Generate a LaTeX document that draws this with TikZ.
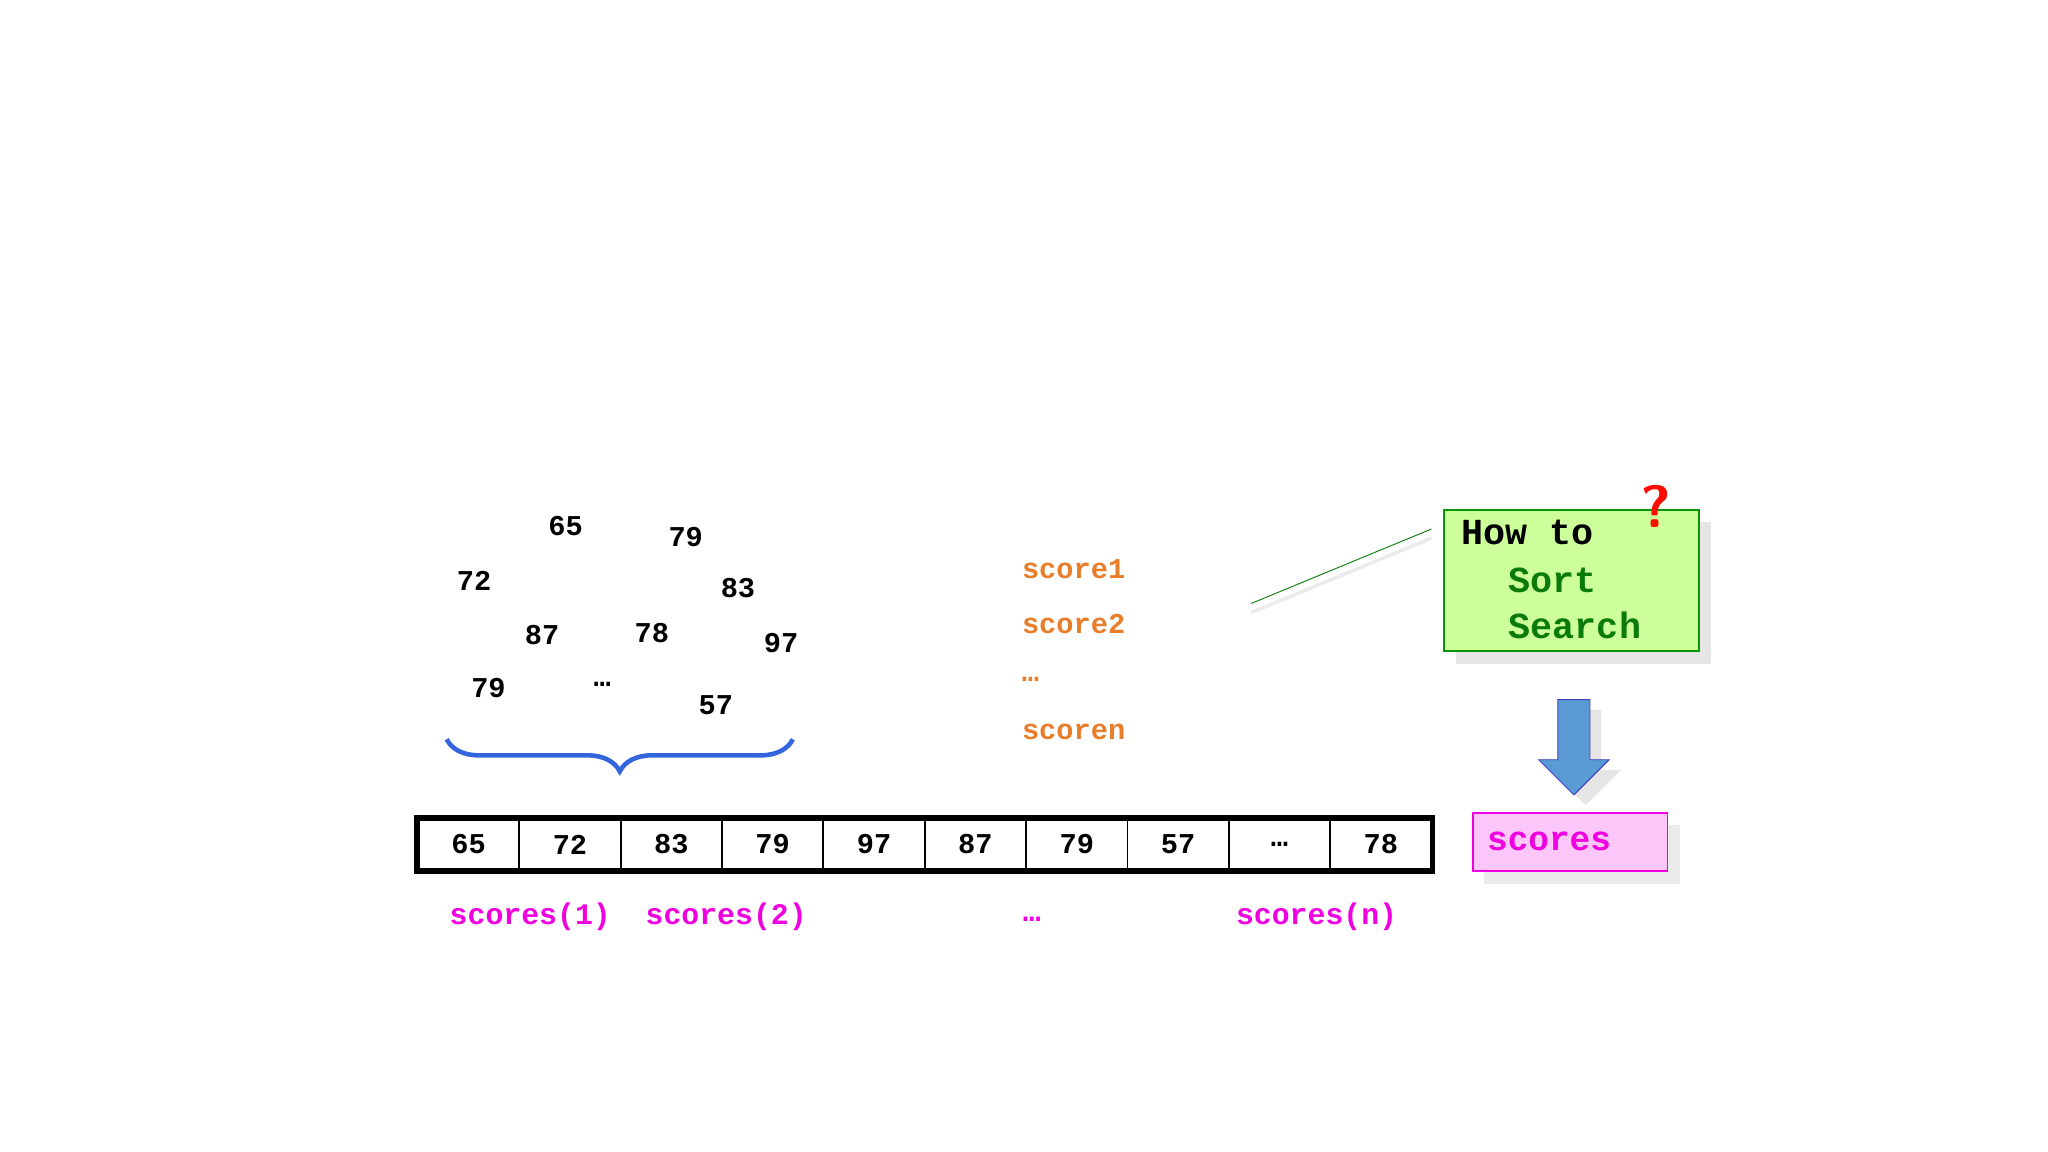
\documentclass[tikz,border=0pt]{standalone}
\usepackage{fontspec}
\setmonofont{Liberation Mono}
\usetikzlibrary{decorations.pathreplacing,shapes.arrows}
\definecolor{orng}{HTML}{E87D2A}
\definecolor{mag}{HTML}{F000E0}
\definecolor{dgreen}{HTML}{0A7A0A}
\definecolor{gfill}{HTML}{CCFF99}
\definecolor{brc}{HTML}{3366DD}
\definecolor{arrc}{HTML}{5B9BD5}
\tikzset{num/.style={font=\ttfamily\bfseries\fontsize{12.5}{14}\selectfont},
 orl/.style={font=\ttfamily\bfseries\fontsize{12.5}{14}\selectfont,text=orng},
 mgl/.style={font=\ttfamily\bfseries\fontsize{13}{15}\selectfont,text=mag},
 cell/.style={draw,line width=0.8pt,minimum width=77.6*0.02cm,minimum height=39*0.02cm,inner sep=0pt,font=\ttfamily\bfseries\fontsize{12.5}{14}\selectfont},
 big/.style={font=\ttfamily\bfseries\fontsize{16}{18}\selectfont}}
\begin{document}
\begin{tikzpicture}[x=0.02cm,y=-0.02cm]
\useasboundingbox (0,0) rectangle (1568,882);
\foreach \t/\x/\y/\n in {65/433/403/a,79/525/411/b,72/363/445/c,83/565/450/d,87/415/486/e,78/499/485/f,97/598/492/g,79/374/527/h,{…}/461/524/i,57/548/540/j}
  \node[num] (n\n) at (\x,\y) {\t};
\draw[brc,line width=2pt,decorate,decoration={brace,mirror,amplitude=14pt}] (342,566) coordinate (b1) -- (607,566) coordinate (b2);
\node[orl] (s1) at (822,436) {score1};
\node[orl] (s2) at (822,478) {score2};
\node[orl] (s3) at (789,520) {…};
\node[orl] (s4) at (822,560) {scoren};
% green box
\fill[black!10] (1115,400) rectangle (1310,508);
\node[draw=dgreen!80!green,fill=gfill,line width=0.8pt,minimum width=195*0.02cm,minimum height=108*0.02cm,anchor=north west,inner sep=0pt] (gb) at (1105,390) {};
\node[big,anchor=west] (h1) at (1113,408) {How to};
\node[big,anchor=west,text=dgreen] (h2) at (1149,444) {Sort};
\node[big,anchor=west,text=dgreen] (h3) at (1149,479) {Search};
\node[text=red!90!orange,font=\sffamily\bfseries\fontsize{26}{28}\selectfont] (q) at (1268,388) {?};
\coordinate (l1) at (958,462); \coordinate (l2) at (1096,405);
\draw[black!8,line width=1.5pt] ([yshift=-4]l1) -- ([yshift=-4]l2);
\draw[dgreen] (l1) -- (l2);
% arrow
\node[single arrow,shape border rotate=270,fill=black!10,minimum width=54*0.02cm,single arrow head extend=14*0.02cm,minimum height=73*0.02cm,inner sep=6pt] at (1214,574) {};
\node[single arrow,shape border rotate=270,fill=arrc,draw=blue!50!gray,minimum width=54*0.02cm,single arrow head extend=13*0.02cm,minimum height=73*0.02cm,inner sep=6pt] (arr) at (1205,566) {};
% pink box
\fill[black!8] (1136,632) rectangle (1286,677);
\node[draw=mag,fill=mag!22,line width=0.8pt,minimum width=149*0.02cm,minimum height=44*0.02cm,anchor=north west,inner sep=0pt] (pb) at (1127,622) {};
\node[mgl,font=\ttfamily\bfseries\fontsize{15}{17}\selectfont] (pt) at (1186,644) {scores};
% array
\foreach \t [count=\i] in {65,72,83,79,97,87,79,57,…,78}
  \node[cell] (c\i) at ({320+77.6*(\i-0.5)},646.5) {\t};
\draw[line width=2.5pt] (c1.north west) rectangle (c10.south east);
\node[mgl] (m1) at (406,702) {scores(1)};
\node[mgl] (m2) at (556,702) {scores(2)};
\node[mgl] (m3) at (790,704) {…};
\node[mgl] (m4) at (1008,702) {scores(n)};
\end{tikzpicture}
\end{document}
